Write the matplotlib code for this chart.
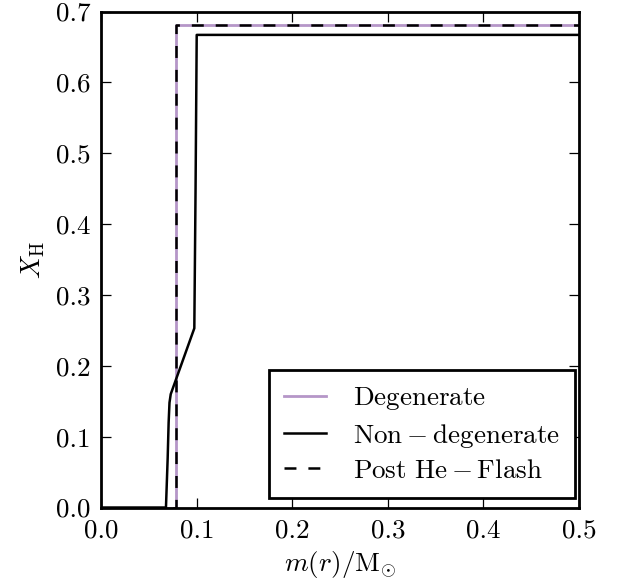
import matplotlib
matplotlib.use("Agg")
import matplotlib.pyplot as plt

plt.rcParams.update({
    "font.family": "serif",
    "font.serif": ["cmr10"],
    "mathtext.fontset": "cm",
    "axes.formatter.use_mathtext": True,
    "axes.unicode_minus": False,
    "lines.scale_dashes": False,
})

# Hydrogen mass-fraction profiles
m_degenerate = [0.0, 0.078, 0.078, 0.5]
x_degenerate = [0.0, 0.0, 0.681, 0.681]

m_nondegenerate = [0.0, 0.0675, 0.0693, 0.0703, 0.0712, 0.0725, 0.0972, 0.0985, 0.0997, 0.5]
x_nondegenerate = [0.0, 0.0, 0.07, 0.12, 0.148, 0.160, 0.253, 0.45, 0.667, 0.667]

m_postflash = [0.0, 0.078, 0.078, 0.5]
x_postflash = [0.0, 0.0, 0.681, 0.681]

labels = [r"$\mathrm{Degenerate}$", r"$\mathrm{Non-degenerate}$", r"$\mathrm{Post\ He-Flash}$"]

fs = 19.5

fig = plt.figure(figsize=(6.17, 5.87), dpi=100)
ax = fig.add_axes([0.1645, 0.1354, 0.7739, 0.8450])

ax.plot(m_degenerate, x_degenerate, color="#b596c8", lw=2.0, label=labels[0])
ax.plot(m_nondegenerate, x_nondegenerate, color="black", lw=1.8, label=labels[1])
ax.plot(m_postflash, x_postflash, color="black", lw=1.8, dashes=(8.6, 8.6), label=labels[2])

ax.set_xlim(0.0, 0.5)
ax.set_ylim(0.0, 0.7)
ax.set_xticks([0.0, 0.1, 0.2, 0.3, 0.4, 0.5])
ax.set_yticks([0.0, 0.1, 0.2, 0.3, 0.4, 0.5, 0.6, 0.7])
ax.set_xticklabels([f"{v:.1f}" for v in ax.get_xticks()])
ax.set_yticklabels([f"{v:.1f}" for v in ax.get_yticks()])

for s in ax.spines.values():
    s.set_linewidth(2.0)
ax.tick_params(direction="in", top=True, right=True, length=7, width=0.9,
               labelsize=fs, pad=8)

ax.set_xlabel(r"$m(r)/\mathrm{M}_{\odot}$", fontsize=fs, labelpad=5)
ax.set_ylabel(r"$X_{\mathrm{H}}$", fontsize=fs, labelpad=6)

leg = ax.legend(loc="lower right", bbox_to_anchor=(0.9916, 0.02), borderaxespad=0,
                fontsize=fs, handlelength=1.55, frameon=True, fancybox=False,
                framealpha=1.0, labelspacing=0.34, borderpad=0.55, handletextpad=1.0)
leg.get_frame().set_edgecolor("black")
leg.get_frame().set_linewidth(2.0)

fig.savefig("out.png", dpi=100)
